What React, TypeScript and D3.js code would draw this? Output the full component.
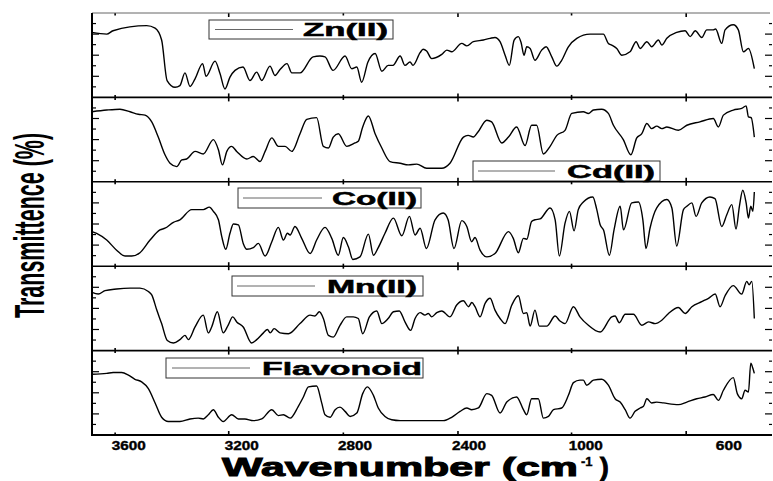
import * as d3 from "d3";

// x axis as printed: the labels do not sit on the tick marks in the original
const tickLabels = ["3600", "3200", "2800", "2400", "1000", "600"];
const tickLabelAt = [3525, 2988, 2450, 1908, 1352, 672];
const minorTicks = [3590, 2505, 1420];
const majorTicks = [3050, 1960, 875];

const seriesNames = ["Zn(II)", "Cd(II)", "Co(II)", "Mn(II)", "Flavonoid"];

// [wavenumber, transmittance in % of panel height]
const znSpectrum = [
  [3700, 77], [3630, 75], [3600, 79], [3440, 85], [3400, 82], [3369, 68], [3343, 20], [3305, 12],
  [3282, 14], [3258, 29], [3234, 13], [3210, 22], [3174, 40], [3158, 25], [3115, 43], [3091, 28],
  [3068, 10], [3044, 24], [3020, 32], [2982, 36], [2949, 20], [2917, 30], [2893, 20], [2854, 37],
  [2830, 26], [2806, 33], [2773, 40], [2750, 29], [2711, 29], [2649, 48], [2616, 49], [2592, 48],
  [2554, 32], [2497, 49], [2465, 34], [2441, 36], [2418, 18], [2388, 42], [2354, 52], [2322, 31],
  [2292, 38], [2269, 38], [2235, 49], [2212, 38], [2188, 42], [2174, 38], [2140, 53], [2126, 57],
  [2109, 55], [2085, 46], [2037, 51], [2013, 56], [1990, 54], [1942, 64], [1918, 61], [1887, 66],
  [1839, 68], [1807, 70], [1784, 71], [1760, 66], [1736, 50], [1716, 38], [1693, 68], [1673, 72],
  [1660, 65], [1646, 50], [1633, 60], [1617, 58], [1594, 44], [1562, 56], [1541, 60], [1514, 48],
  [1490, 37], [1467, 44], [1435, 60], [1395, 70], [1332, 75], [1269, 75], [1245, 64], [1229, 62],
  [1205, 58], [1181, 50], [1142, 54], [1113, 66], [1094, 58], [1062, 66], [1039, 60], [1007, 68],
  [991, 62], [967, 70], [920, 77], [880, 79], [856, 72], [832, 79], [801, 71], [777, 80],
  [746, 80], [735, 81], [706, 64], [690, 80], [651, 86], [627, 80], [603, 54], [579, 58], [551, 34],
];

const cdSpectrum = [
  [3700, 83], [3630, 85], [3567, 86], [3519, 83], [3480, 80], [3448, 79], [3416, 71], [3385, 53],
  [3353, 32], [3329, 22], [3297, 18], [3273, 26], [3250, 27], [3210, 36], [3171, 33], [3123, 50],
  [3099, 38], [3080, 20], [3059, 36], [3036, 42], [3012, 36], [2964, 27], [2933, 30], [2901, 24],
  [2877, 36], [2845, 52], [2814, 42], [2782, 42], [2750, 36], [2711, 57], [2679, 74], [2632, 76],
  [2600, 42], [2576, 40], [2553, 53], [2529, 57], [2489, 42], [2450, 46], [2434, 48], [2413, 65],
  [2386, 78], [2354, 57], [2322, 40], [2283, 24], [2235, 22], [2196, 20], [2156, 21], [2109, 16],
  [2037, 16], [1998, 22], [1934, 53], [1912, 55], [1887, 53], [1865, 59], [1823, 73], [1800, 71],
  [1752, 46], [1720, 53], [1681, 65], [1641, 43], [1610, 67], [1586, 67], [1554, 33], [1522, 42],
  [1490, 55], [1451, 61], [1419, 81], [1364, 83], [1340, 81], [1316, 85], [1277, 86], [1245, 81],
  [1221, 67], [1174, 50], [1138, 32], [1110, 52], [1086, 57], [1062, 69], [1039, 63], [1015, 66],
  [991, 63], [967, 65], [912, 61], [872, 67], [810, 71], [746, 75], [722, 65], [698, 79],
  [651, 85], [611, 87], [590, 90], [579, 77], [566, 76], [551, 53],
];

const coSpectrum = [
  [3700, 41], [3678, 39], [3630, 31], [3583, 19], [3543, 12], [3511, 12], [3472, 16], [3424, 31],
  [3377, 43], [3353, 45], [3313, 52], [3282, 55], [3226, 67], [3171, 67], [3142, 70], [3123, 65],
  [3099, 55], [3083, 35], [3064, 20], [3044, 39], [3028, 50], [3004, 49], [2981, 27], [2964, 20],
  [2933, 22], [2909, 27], [2877, 12], [2845, 29], [2814, 46], [2790, 31], [2771, 39], [2758, 37],
  [2735, 47], [2703, 33], [2663, 15], [2632, 31], [2592, 46], [2560, 33], [2529, 13], [2505, 34],
  [2481, 23], [2460, 8], [2426, 11], [2386, 38], [2362, 13], [2339, 22], [2307, 39], [2267, 57],
  [2227, 36], [2191, 59], [2164, 37], [2140, 45], [2110, 21], [2069, 55], [2030, 63], [2007, 55],
  [1979, 21], [1942, 54], [1918, 47], [1895, 29], [1879, 34], [1855, 19], [1823, 11], [1784, 15],
  [1720, 41], [1697, 33], [1673, 16], [1649, 33], [1633, 32], [1610, 53], [1594, 55], [1570, 56],
  [1522, 69], [1498, 55], [1478, 12], [1451, 51], [1430, 65], [1408, 42], [1388, 67], [1364, 76],
  [1319, 82], [1300, 67], [1284, 49], [1268, 43], [1240, 13], [1218, 43], [1189, 71], [1173, 43],
  [1134, 75], [1102, 76], [1081, 55], [1066, 21], [1047, 45], [1015, 69], [967, 79], [943, 69],
  [920, 24], [888, 67], [872, 71], [848, 75], [828, 59], [801, 75], [762, 82], [738, 80],
  [706, 47], [682, 61], [658, 73], [638, 44], [622, 71], [606, 90], [590, 75], [579, 57],
  [568, 71], [558, 65], [551, 88],
];

const mnSpectrum = [
  [3700, 69], [3670, 67], [3638, 71], [3583, 73], [3519, 74], [3472, 74], [3432, 70], [3416, 66],
  [3392, 48], [3369, 32], [3342, 12], [3313, 9], [3282, 13], [3258, 18], [3242, 13], [3210, 28],
  [3171, 42], [3147, 21], [3131, 28], [3104, 46], [3076, 21], [3053, 30], [3031, 40], [3012, 34],
  [2981, 28], [2941, 9], [2917, 13], [2885, 21], [2866, 25], [2853, 21], [2834, 26], [2806, 21],
  [2766, 20], [2711, 32], [2663, 42], [2640, 41], [2619, 46], [2600, 38], [2576, 18], [2553, 16],
  [2521, 30], [2489, 40], [2458, 40], [2434, 38], [2413, 20], [2381, 40], [2346, 47], [2322, 32],
  [2292, 38], [2267, 46], [2239, 47], [2212, 34], [2185, 24], [2164, 38], [2140, 45], [2117, 42],
  [2101, 44], [2085, 40], [2061, 45], [2037, 47], [1998, 40], [1966, 54], [1934, 59], [1910, 52],
  [1894, 57], [1879, 52], [1855, 40], [1831, 56], [1807, 62], [1784, 48], [1760, 38], [1736, 32],
  [1704, 54], [1673, 65], [1649, 44], [1633, 45], [1617, 29], [1594, 48], [1573, 29], [1538, 29],
  [1498, 41], [1475, 35], [1451, 32], [1411, 52], [1380, 40], [1340, 30], [1284, 22], [1229, 40],
  [1213, 41], [1193, 33], [1165, 43], [1126, 43], [1086, 30], [1054, 34], [1023, 32], [991, 36],
  [959, 44], [912, 51], [880, 44], [848, 52], [801, 58], [769, 62], [737, 67], [714, 52],
  [690, 65], [651, 77], [611, 67], [587, 82], [576, 78], [563, 82], [551, 38],
];

const flavonoidSpectrum = [
  [3700, 72], [3630, 73], [3599, 74], [3559, 74], [3527, 71], [3496, 66], [3464, 63], [3432, 55],
  [3400, 38], [3369, 21], [3337, 16], [3282, 16], [3234, 19], [3195, 20], [3171, 19], [3147, 24],
  [3123, 30], [3099, 21], [3076, 16], [3036, 24], [3004, 19], [2973, 19], [2933, 17], [2893, 19],
  [2845, 30], [2814, 23], [2790, 24], [2758, 20], [2719, 34], [2695, 45], [2671, 57], [2632, 58],
  [2608, 38], [2592, 24], [2568, 21], [2544, 30], [2521, 33], [2497, 28], [2473, 22], [2441, 26],
  [2413, 49], [2391, 57], [2362, 47], [2339, 32], [2307, 22], [2275, 18], [2235, 17], [2030, 17],
  [1990, 21], [1950, 28], [1918, 32], [1895, 30], [1863, 32], [1823, 49], [1800, 47], [1760, 26],
  [1728, 39], [1681, 45], [1649, 30], [1633, 24], [1610, 43], [1578, 43], [1554, 20], [1530, 22],
  [1506, 30], [1467, 32], [1435, 47], [1411, 62], [1380, 65], [1364, 65], [1348, 59], [1316, 65],
  [1277, 66], [1245, 59], [1213, 43], [1189, 39], [1165, 30], [1142, 20], [1118, 28], [1094, 32],
  [1078, 34], [1062, 43], [1039, 38], [1015, 39], [983, 38], [912, 36], [872, 39], [825, 43],
  [786, 45], [746, 48], [722, 41], [698, 53], [651, 68], [632, 49], [611, 43], [595, 53],
  [579, 51], [568, 85], [558, 79], [551, 73],
];

const spectra = [znSpectrum, cdSpectrum, coSpectrum, mnSpectrum, flavonoidSpectrum];

// legend boxes, in px (y relative to the panel top)
const legendLayout = [
  { x: 209, y: 7, w: 184, h: 19, lx1: 215, lx2: 293, tx: 303, tw: 85 },
  { x: 473, y: 63.6, w: 187, h: 20, lx1: 478, lx2: 555, tx: 567, tw: 88 },
  { x: 238, y: 6.2, w: 183, h: 20, lx1: 243, lx2: 322, tx: 332, tw: 85 },
  { x: 232, y: 9.8, w: 191, h: 20, lx1: 237, lx2: 315, tx: 327, tw: 90 },
  { x: 166, y: 7.4, w: 257, h: 20, lx1: 172, lx2: 250, tx: 262, tw: 160 },
];

const width = 773;
const height = 481;
const margin = { top: 13, right: 1, bottom: 46, left: 92 };
const plotRight = width - margin.right;
const plotBottom = height - margin.bottom;
const panelH = (plotBottom - margin.top) / spectra.length;

const x = d3.scaleLinear().domain([3700, 467]).range([margin.left, plotRight]);

const font = "'Liberation Sans', Arial, sans-serif";

function Panel({ i }: { i: number }) {
  const y0 = margin.top + i * panelH;
  const y = d3.scaleLinear().domain([0, 100]).range([y0 + panelH, y0]);
  const line = d3
    .line<number[]>()
    .x((d) => x(d[0]))
    .y((d) => y(d[1]))
    .curve(d3.curveMonotoneX);
  const lg = legendLayout[i];
  const yTicks = d3.range(1, 8);
  return (
    <g>
      <path d={line(spectra[i]) || ""} fill="none" stroke="#000" strokeWidth={1.4} />
      {yTicks.map((k) => {
        const ty = y0 + (k * panelH) / 8;
        const len = k % 2 === 0 ? 7 : 4;
        return (
          <g key={k}>
            <line x1={margin.left} x2={margin.left + len} y1={ty} y2={ty} stroke="#000" strokeWidth={1.2} />
            <line x1={plotRight} x2={plotRight - (k % 2 === 0 ? 7 : 3)} y1={ty} y2={ty} stroke="#000" strokeWidth={1.2} />
          </g>
        );
      })}
      {majorTicks.map((t) => (
        <g key={"M" + t}>
          <line x1={x(t)} x2={x(t)} y1={y0} y2={y0 + 4} stroke="#000" strokeWidth={1.6} />
          <line x1={x(t)} x2={x(t)} y1={y0 + panelH} y2={y0 + panelH - 4} stroke="#000" strokeWidth={1.6} />
        </g>
      ))}
      {minorTicks.map((t) => (
        <g key={"m" + t}>
          <line x1={x(t)} x2={x(t)} y1={y0} y2={y0 + 2.5} stroke="#000" strokeWidth={1.6} />
          <line x1={x(t)} x2={x(t)} y1={y0 + panelH} y2={y0 + panelH - 2.5} stroke="#000" strokeWidth={1.6} />
        </g>
      ))}
      <rect x={lg.x} y={y0 + lg.y} width={lg.w} height={lg.h} fill="#fff" stroke="#333" strokeWidth={1} />
      <line x1={lg.lx1} x2={lg.lx2} y1={y0 + lg.y + lg.h / 2} y2={y0 + lg.y + lg.h / 2} stroke="#666" strokeWidth={1} />
      <text
        x={lg.tx}
        y={y0 + lg.y + lg.h - 3.5}
        fontFamily={font}
        fontWeight="bold"
        fontSize={18}
        textLength={lg.tw}
        lengthAdjust="spacingAndGlyphs"
        stroke="#000"
        strokeWidth={0.5}
      >
        {seriesNames[i]}
      </text>
    </g>
  );
}

export default function App() {
  const boundaries = d3.range(0, spectra.length + 1).map((k) => margin.top + k * panelH);
  return (
    <svg
      width={width}
      height={height}
      style={{ position: "absolute", left: 0, top: 0, background: "#fff" }}
    >
      {spectra.map((_, i) => (
        <Panel key={i} i={i} />
      ))}
      {boundaries.map((by, k) => (
        <line
          key={k}
          x1={margin.left}
          x2={k === 0 ? plotRight - 2 : plotRight}
          y1={by}
          y2={by}
          stroke={k === 0 ? "#666" : "#000"}
          strokeWidth={k === 0 ? 1 : k === spectra.length ? 2 : 1.6}
        />
      ))}
      <line x1={margin.left} x2={margin.left} y1={margin.top} y2={plotBottom + 1} stroke="#000" strokeWidth={2} />
      {tickLabels.map((t, k) => {
        const w = t.length === 4 ? 34 : 26;
        return (
          <text
            key={t}
            x={x(tickLabelAt[k]) - w / 2}
            y={plotBottom + 15}
            fontFamily={font}
            fontWeight="bold"
            fontSize={13}
            textLength={w}
            lengthAdjust="spacingAndGlyphs"
            stroke="#000"
            strokeWidth={0.4}
          >
            {t}
          </text>
        );
      })}
      <text
        x={222}
        y={476}
        fontFamily={font}
        fontWeight="bold"
        fontSize={26}
        textLength={356}
        lengthAdjust="spacingAndGlyphs"
        stroke="#000"
        strokeWidth={1}
      >
        Wavenumber (cm
      </text>
      <text x={581} y={466} fontFamily={font} fontWeight="bold" fontSize={13} stroke="#000" strokeWidth={0.4}>
        -1
      </text>
      <text x={600} y={476} fontFamily={font} fontWeight="bold" fontSize={26} stroke="#000" strokeWidth={1}>
        )
      </text>
      <text
        transform="translate(44,318) rotate(-90) scale(0.5,1)"
        fontFamily={font}
        fontWeight="bold"
        fontSize={43}
      >
        Transmittence (%)
      </text>
    </svg>
  );
}
